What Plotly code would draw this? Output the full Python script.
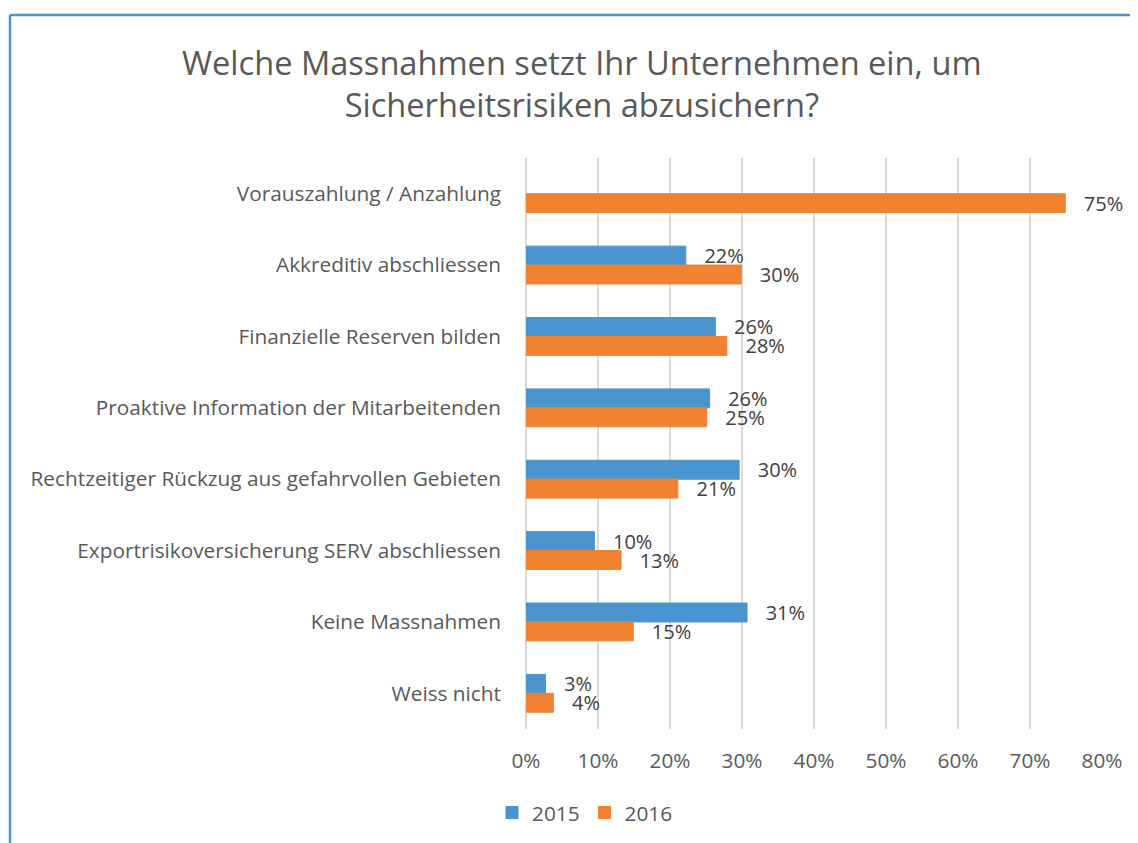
import plotly.graph_objects as go

categories = [
    "Vorauszahlung / Anzahlung",
    "Akkreditiv abschliessen",
    "Finanzielle Reserven bilden",
    "Proaktive Information der Mitarbeitenden",
    "Rechtzeitiger Rückzug aus gefahrvollen Gebieten",
    "Exportrisikoversicherung SERV abschliessen",
    "Keine Massnahmen",
    "Weiss nicht",
]
values_2015 = [None, 0.222, 0.263, 0.255, 0.296, 0.095, 0.307, 0.027]
values_2016 = [0.749, 0.299, 0.279, 0.251, 0.211, 0.132, 0.149, 0.038]
x_ticks = [0, 0.1, 0.2, 0.3, 0.4, 0.5, 0.6, 0.7, 0.8]

FONT = "Open Sans"
OFF = 8  # page body margin offset
W, H = 1138 - OFF, 843 - OFF
ML = 526 - OFF
MR = W - (1102 - OFF)
MT = 158 - OFF
MB = H - (729 - OFF)

BLUE = "#4A95D0"
ORANGE = "#F08232"
GRID = "#D9D9D9"
TXT = "#595959"

pw = W - ML - MR
ph = H - MT - MB


def px_x(p):
    """screen px -> paper x"""
    return (p - OFF - ML) / pw


def px_y(p):
    """screen px -> paper y"""
    return (H - MB - (p - OFF)) / ph


label_tpl = "\u00a0\u00a0\u00a0%{x:.0%}"

fig = go.Figure()
fig.add_trace(go.Bar(
    y=categories, x=values_2015, name="2015", orientation="h",
    marker=dict(color=BLUE, line=dict(color=BLUE, width=1)),
    texttemplate=label_tpl, textposition="outside", constraintext="none",
    textfont=dict(family=FONT, size=20, color="#404040"),
    cliponaxis=False,
))
fig.add_trace(go.Bar(
    y=categories, x=values_2016, name="2016", orientation="h",
    marker=dict(color=ORANGE, line=dict(color=ORANGE, width=1)),
    texttemplate=label_tpl, textposition="outside", constraintext="none",
    textfont=dict(family=FONT, size=20, color="#404040"),
    cliponaxis=False,
))

fig.update_layout(
    width=W, height=H,
    margin=dict(l=ML, r=MR, t=MT, b=MB, autoexpand=False),
    paper_bgcolor="white", plot_bgcolor="white",
    barmode="group", bargap=0.47, bargroupgap=0,
    font=dict(family=FONT, size=20.8, color=TXT),
    xaxis=dict(
        range=[0, 0.8], tickvals=x_ticks, tickformat=".0%",
        showgrid=True, gridcolor=GRID, gridwidth=2,
        zeroline=True, zerolinecolor=GRID, zerolinewidth=2,
        showline=False, ticks="",
        tickfont=dict(family=FONT, size=20.8, color=TXT),
        ticklabelstandoff=17,
    ),
    yaxis=dict(
        categoryorder="array", categoryarray=categories, autorange="reversed",
        showgrid=False, zeroline=False, showline=False, ticks="",
        tickfont=dict(family=FONT, size=20.8, color=TXT),
        ticklabelstandoff=24,
    ),
    legend=dict(
        orientation="h", x=px_x(585), xanchor="center",
        y=px_y(813), yanchor="middle",
        font=dict(family=FONT, size=20.8, color=TXT),
        traceorder="normal",
    ),
    showlegend=True,
    annotations=[dict(
        text="Welche Massnahmen setzt Ihr Unternehmen ein, um<br>Sicherheitsrisiken abzusichern?",
        xref="paper", yref="paper", x=px_x(582), y=px_y(83.5),
        xanchor="center", yanchor="middle", showarrow=False,
        font=dict(family=FONT, size=32.6, color=TXT),
    )],
)

# chart border (left and top)
fig.add_shape(type="line", xref="paper", yref="paper",
              x0=px_x(10), x1=px_x(10), y0=px_y(850), y1=px_y(15),
              line=dict(color=BLUE, width=2.5))
fig.add_shape(type="line", xref="paper", yref="paper",
              x0=px_x(10), x1=px_x(1140), y0=px_y(15), y1=px_y(15),
              line=dict(color=BLUE, width=2.5))

fig.write_html("out.html")
